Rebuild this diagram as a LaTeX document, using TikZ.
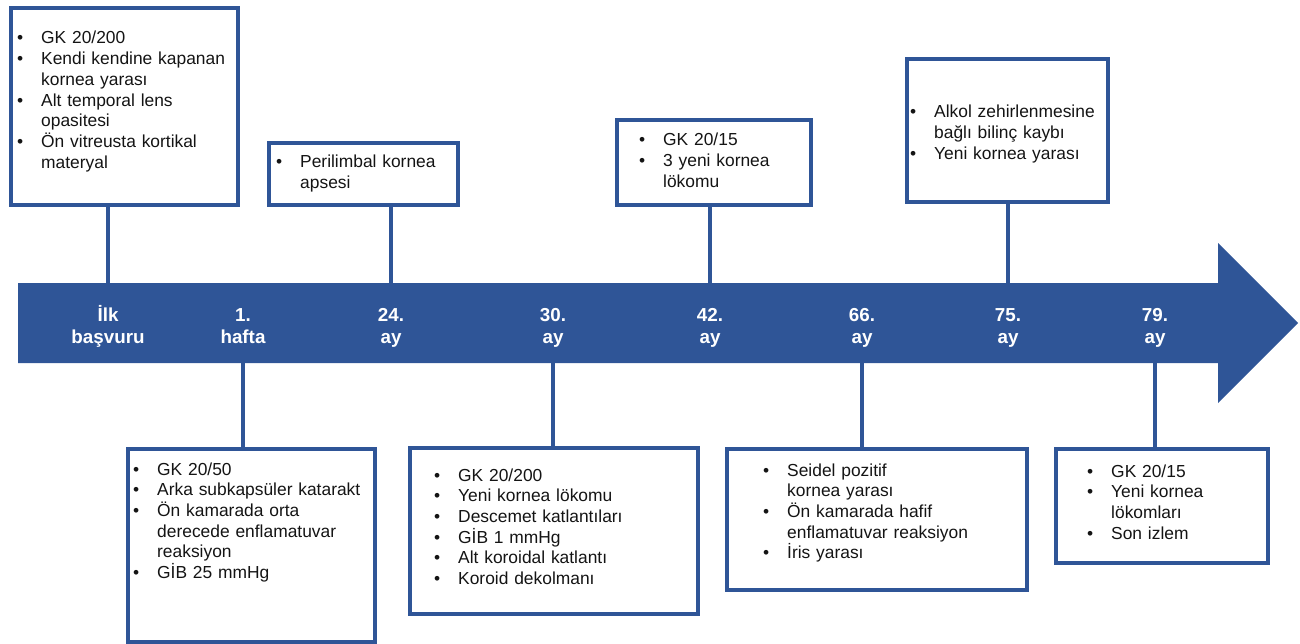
\documentclass[tikz,border=0pt]{standalone}
\usepackage{fontspec}
\setmainfont{Liberation Sans}
\definecolor{tlblue}{RGB}{47,85,151}
\definecolor{tltext}{RGB}{20,20,20}
\newcommand\bl{\makebox[24bp][l]{•}}
\newcommand\ind{\hspace*{24bp}}
\tikzset{
  evbox/.style={draw=tlblue, line width=4bp, inner sep=0pt, anchor=north west},
  evtext/.style={anchor=base west, inner sep=0pt, text width=300bp, align=left,
    font=\fontsize{17.4bp}{20.7bp}\selectfont, text=tltext},
  barlab/.style={anchor=base, inner sep=0pt, text width=120bp, align=center,
    font=\fontsize{18.8bp}{22.5bp}\selectfont\bfseries, text=white},
  conn/.style={draw=tlblue, line width=4bp},
}
\begin{document}
\begin{tikzpicture}[x=1bp,y=-1bp]
\useasboundingbox (0,0) rectangle (1300,644);
% timeline arrow
\fill[tlblue] (18,283) -- (1218,283) -- (1218,243) -- (1298,323) -- (1218,403) -- (1218,363) -- (18,363) -- cycle;
\coordinate (bartop) at (0,283);
\coordinate (barbot) at (0,363);
% labels on the arrow
\path
  (108,321) node[barlab] (l1) {İlk\\başvuru}
  (243,321) node[barlab] (l2) {1.\\hafta}
  (391,321) node[barlab] (l3) {24.\\ay}
  (553,321) node[barlab] (l4) {30.\\ay}
  (710,321) node[barlab] (l5) {42.\\ay}
  (862,321) node[barlab] (l6) {66.\\ay}
  (1008,321) node[barlab] (l7) {75.\\ay}
  (1155,321) node[barlab] (l8) {79.\\ay};
% boxes
\node[evbox, minimum width=227bp, minimum height=197bp] (b1) at (9,6) {};
\node[evbox, minimum width=189bp, minimum height=62bp] (b2) at (267,141) {};
\node[evbox, minimum width=194bp, minimum height=85bp] (b3) at (615,118) {};
\node[evbox, minimum width=201bp, minimum height=143bp] (b4) at (905,57) {};
\node[evbox, minimum width=247bp, minimum height=193bp] (b5) at (126,447) {};
\node[evbox, minimum width=288bp, minimum height=166bp] (b6) at (408,446) {};
\node[evbox, minimum width=300bp, minimum height=141bp] (b7) at (725,447) {};
\node[evbox, minimum width=212bp, minimum height=114bp] (b8) at (1054,447) {};
% texts
\node[evtext] (t1) at (17,44) {\bl GK 20/200\\\bl Kendi kendine kapanan\\\ind kornea yarası\\\bl Alt temporal lens\\\ind opasitesi\\\bl Ön vitreusta kortikal\\\ind materyal};
\node[evtext] (t2) at (276,168) {\bl Perilimbal kornea\\\ind apsesi};
\node[evtext] (t3) at (639,146) {\bl GK 20/15\\\bl 3 yeni kornea\\\ind lökomu};
\node[evtext] (t4) at (910,118) {\bl Alkol zehirlenmesine\\\ind bağlı bilinç kaybı\\\bl Yeni kornea yarası};
\node[evtext] (t5) at (133,475) {\bl GK 20/50\\\bl Arka subkapsüler katarakt\\\bl Ön kamarada orta\\\ind derecede enflamatuvar\\\ind reaksiyon\\\bl GİB 25 mmHg};
\node[evtext] (t6) at (434,481) {\bl GK 20/200\\\bl Yeni kornea lökomu\\\bl Descemet katlantıları\\\bl GİB 1 mmHg\\\bl Alt koroidal katlantı\\\bl Koroid dekolmanı};
\node[evtext] (t7) at (763,476) {\bl Seidel pozitif\\\ind kornea yarası\\\bl Ön kamarada hafif\\\ind enflamatuvar reaksiyon\\\bl İris yarası};
\node[evtext] (t8) at (1087,477) {\bl GK 20/15\\\bl Yeni kornea\\\ind lökomları\\\bl Son izlem};
% connectors
\draw[conn] (b1.south -| l1) -- (l1 |- bartop);
\draw[conn] (b2.south -| l3) -- (l3 |- bartop);
\draw[conn] (b3.south -| l5) -- (l5 |- bartop);
\draw[conn] (b4.south -| l7) -- (l7 |- bartop);
\draw[conn] (l2 |- barbot) -- (b5.north -| l2);
\draw[conn] (l4 |- barbot) -- (b6.north -| l4);
\draw[conn] (l6 |- barbot) -- (b7.north -| l6);
\draw[conn] (l8 |- barbot) -- (b8.north -| l8);
\end{tikzpicture}
\end{document}
